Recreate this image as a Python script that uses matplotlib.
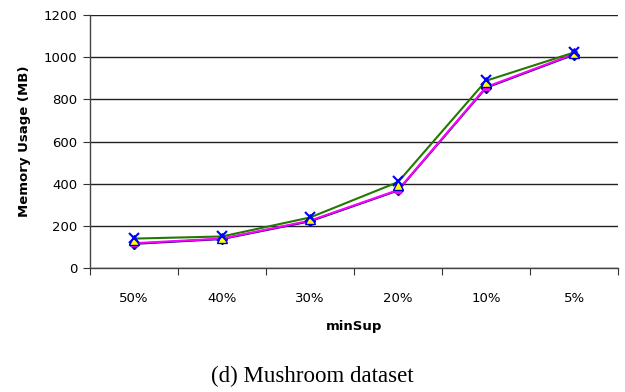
import matplotlib
matplotlib.use("Agg")
import matplotlib.pyplot as plt
import numpy as np

categories = ["50%", "40%", "30%", "20%", "10%", "5%"]
navy_diamond = [115, 138, 222, 368, 855, 1012]
magenta_square = [118, 140, 225, 370, 858, 1015]
yellow_triangle = [135, 145, 235, 395, 880, 1020]
blue_x = [142, 152, 242, 412, 890, 1025]
green_line = [140, 150, 240, 408, 888, 1022]
y_ticks = [0, 200, 400, 600, 800, 1000, 1200]

fig = plt.figure(figsize=(6.25, 3.92), dpi=100)
ax = fig.add_axes([0.144, 0.316, 0.845, 0.646])

x = np.arange(len(categories))

ax.plot(x, navy_diamond, color="#000080", lw=1.5, marker="D", ms=5,
        mfc="#000080", mec="#000080", zorder=3)
ax.plot(x, magenta_square, color="#FF00FF", lw=1.5, marker="s", ms=5,
        mfc="#FF00FF", mec="#FF00FF", zorder=4)
ax.plot(x, yellow_triangle, color="#FFFF00", lw=0, marker="^", ms=7,
        mfc="#FFFF00", mec="#0000CC", mew=1, zorder=5)
ax.plot(x, green_line, color="#217A00", lw=1.5, zorder=4)
ax.plot(x, blue_x, color="#0000FF", lw=0, marker="x", ms=7, mew=1.5, zorder=6)

ax.set_xlim(-0.5, len(categories) - 0.5)
ax.set_ylim(0, 1200)
ax.set_yticks(y_ticks)
ax.set_yticklabels([str(v) for v in y_ticks], fontsize=9.5, family="DejaVu Sans")

# category boundaries carry the ticks, centres carry the labels
ax.set_xticks(np.arange(-0.5, len(categories), 1.0))
ax.set_xticklabels([])
ax.set_xticks(x, minor=True)
ax.set_xticklabels(categories, minor=True, fontsize=9.5, family="DejaVu Sans")
ax.tick_params(axis="x", which="major", length=5, direction="out", color="#333333")
ax.tick_params(axis="x", which="minor", length=0, pad=17)
ax.tick_params(axis="y", length=5, direction="out", color="#333333", pad=4)

ax.grid(axis="y", color="#222222", lw=1)
ax.set_axisbelow(True)
for s in ("top", "right"):
    ax.spines[s].set_visible(False)
for s in ("left", "bottom"):
    ax.spines[s].set_color("#444444")
    ax.spines[s].set_linewidth(1)

ax.set_ylabel("Memory Usage (MB)", fontsize=9.5, fontweight="bold", labelpad=9)
ax.set_xlabel("minSup", fontsize=9.5, fontweight="bold", labelpad=11)

fig.text(0.5, 0.012, "(d) Mushroom dataset", ha="center", va="bottom",
         family="Liberation Serif", fontsize=16.5)

fig.savefig("out.png", dpi=100)
